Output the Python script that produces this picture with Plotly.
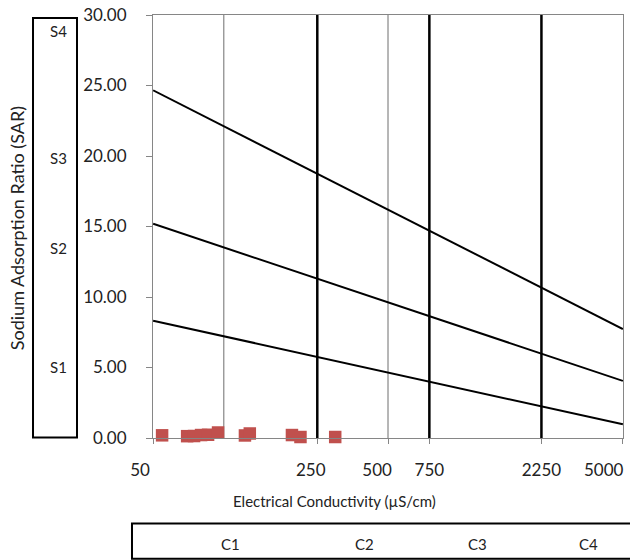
import numpy as np
import plotly.graph_objects as go

# Water samples: electrical conductivity (µS/cm) and sodium adsorption ratio
ec_samples = [54.6, 69.8, 74.7, 80.0, 85.7, 94.5, 123, 129, 195, 212, 298]
sar_samples = [0.19, 0.13, 0.14, 0.21, 0.23, 0.39, 0.18, 0.32, 0.21, 0.07, 0.07]

# Sodium hazard boundary lines (SAR at EC = 50 and EC = 5000)
ec_ends = [50, 5000]
sar_s3_s4 = [24.66, 7.73]
sar_s2_s3 = [15.19, 4.05]
sar_s1_s2 = [8.32, 0.97]

# Salinity class boundaries and reference lines (µS/cm)
salinity_bounds = [250, 750, 2250]
reference_ec = [100, 500]

x_tick_vals = [50, 250, 500, 750, 2250, 5000]
x_tick_text = ["50", "250", "500", "750", "2250", "5000"]
y_tick_vals = [0, 5, 10, 15, 20, 25, 30]

sodium_classes = ["S1", "S2", "S3", "S4"]
salinity_classes = ["C1", "C2", "C3", "C4"]

FONT = "Lato"
TEXT = "#222"
AXIS_GRAY = "#868686"
NBSP = "\u00a0"

# trailing no-break spaces nudge some labels to the left of their tick;
# the last label is right-aligned to its tick as an annotation instead
label_pad = {"50": 6, "250": 3, "500": 5}
x_tick_labels = [t + NBSP * label_pad.get(t, 0) for t in x_tick_text[:-1]] + [""]

fig = go.Figure()

# thin reference verticals
for v in reference_ec:
    fig.add_trace(go.Scatter(x=[v, v], y=[0, 30], mode="lines",
                             line=dict(color="#6e6e6e", width=1),
                             hoverinfo="skip", showlegend=False))

# salinity class boundaries
for v in salinity_bounds:
    fig.add_trace(go.Scatter(x=[v, v], y=[0, 30], mode="lines",
                             line=dict(color="black", width=2.5),
                             hoverinfo="skip", showlegend=False))

# sodium hazard boundaries
for sar in (sar_s3_s4, sar_s2_s3, sar_s1_s2):
    fig.add_trace(go.Scatter(x=ec_ends, y=sar, mode="lines",
                             line=dict(color="black", width=2),
                             hoverinfo="skip", showlegend=False))

# samples
fig.add_trace(go.Scatter(x=ec_samples, y=sar_samples, mode="markers",
                         marker=dict(symbol="square", size=12.5, color="#C0504D"),
                         cliponaxis=False, showlegend=False))

pad = 0.0005
fig.update_xaxes(type="log", range=[np.log10(50) - pad, np.log10(5000) + pad],
                 tickvals=x_tick_vals, ticktext=x_tick_labels,
                 tickangle=0, automargin=False,
                 showgrid=False, zeroline=False,
                 showline=True, linecolor=AXIS_GRAY, linewidth=1, mirror=True,
                 ticks="outside", ticklen=5, tickcolor=AXIS_GRAY,
                 ticklabelstandoff=12,
                 tickfont=dict(family=FONT, size=17, color=TEXT))
fig.update_yaxes(range=[0, 30], tickvals=y_tick_vals, tickformat=".2f",
                 automargin=False,
                 showgrid=False, zeroline=False,
                 showline=True, linecolor=AXIS_GRAY, linewidth=1, mirror=True,
                 ticks="outside", ticklen=6, tickcolor=AXIS_GRAY,
                 ticklabelstandoff=16,
                 tickfont=dict(family=FONT, size=17, color=TEXT))

shapes = [
    # sodium class box
    dict(type="rect", xref="paper", yref="paper",
         x0=-0.2553, x1=-0.1617, y0=0.0012, y1=0.9929,
         line=dict(color="black", width=2)),
    # salinity class box
    dict(type="rect", xref="paper", yref="paper",
         x0=-0.0447, x1=1.04, y0=-0.2852, y1=-0.2024,
         line=dict(color="black", width=2)),
]

def label(text, x, y, size=15, angle=0):
    return dict(text=text, xref="paper", yref="paper", x=x, y=y,
                xanchor="center", yanchor="middle", textangle=angle,
                showarrow=False, font=dict(family=FONT, size=size, color=TEXT))

annotations = [
    label("Sodium Adsorption Ratio (SAR)", -0.2894, 0.4959, size=18, angle=-90),
    label("Electrical Conductivity (µS/cm)", 0.387, -0.1479, size=15),
    # last x tick label, right-aligned to its tick
    dict(text=x_tick_text[-1], xref="x", yref="paper",
         x=np.log10(x_tick_vals[-1]), y=-0.074, xanchor="right", yanchor="middle",
         xshift=3, showarrow=False, font=dict(family=FONT, size=17, color=TEXT)),
]
for lab, yy in zip(sodium_classes, [0.1669, 0.4485, 0.6615, 0.9627]):
    annotations.append(label(lab, -0.2021, yy))
for lab, xx in zip(salinity_classes, [0.164, 0.451, 0.691, 0.926]):
    annotations.append(label(lab, xx, -0.2497))

fig.update_layout(width=630, height=560,
                  margin=dict(l=153, r=7, t=15, b=122, autoexpand=False),
                  paper_bgcolor="white", plot_bgcolor="white",
                  shapes=shapes, annotations=annotations,
                  showlegend=False)

fig.write_html("out.html")
